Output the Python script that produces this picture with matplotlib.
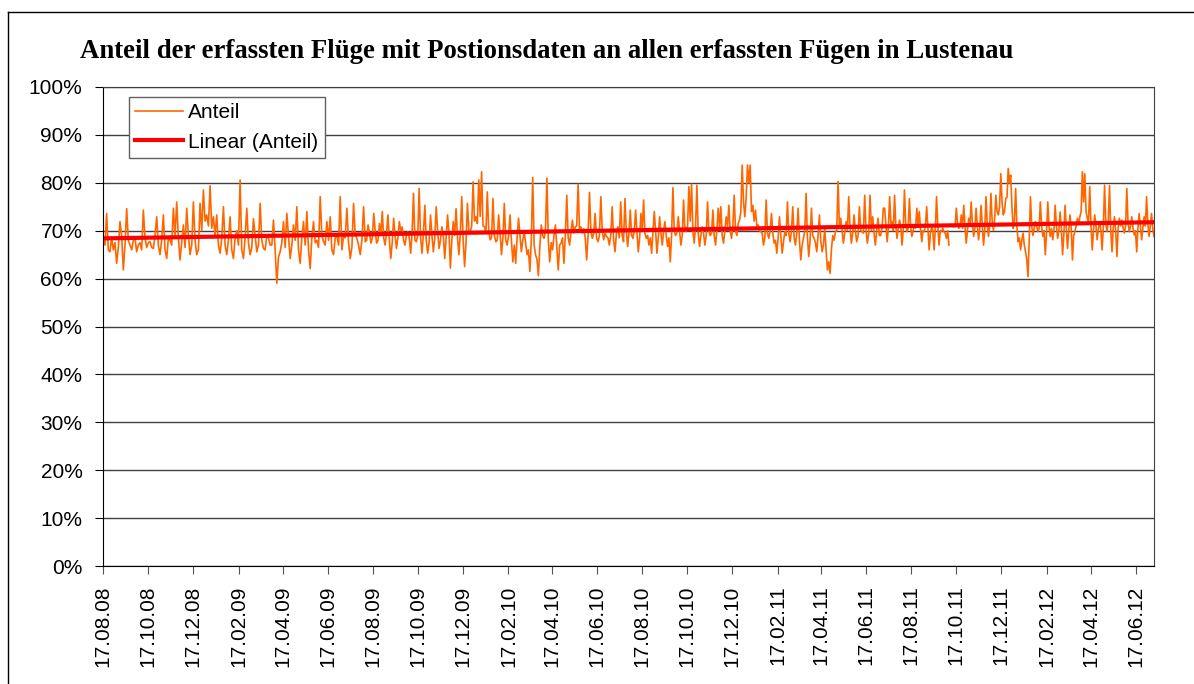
import numpy as np
import pandas as pd
import matplotlib
matplotlib.use('Agg')
import matplotlib.pyplot as plt
import matplotlib.dates as mdates
from matplotlib.ticker import FuncFormatter, MultipleLocator
from matplotlib.lines import Line2D

plt.rcParams['font.family'] = ['Liberation Sans', 'DejaVu Sans']

title = 'Anteil der erfassten Flüge mit Postionsdaten an allen erfassten Fügen in Lustenau'

# Anteil in %, eine Liste je Jahr (Aug..Jul)
seg_bounds = ['2008-08-17', '2009-08-07', '2010-07-25', '2011-07-12', '2012-07-11']
anteil_0809 = [
    68, 67, 73.6, 66, 65.6, 68.5, 66, 67.5, 63.2, 66.5, 71.9, 69, 61.8, 67, 74.6, 68, 67, 66, 68, 68.5,
    65.6, 67, 67.5, 66, 74.3, 68.5, 66.5, 67.5, 67.7, 66.5, 66.3, 69, 72.9, 67, 65, 68, 73.3, 66, 64.2, 68.5,
    68, 67, 74.7, 69, 76, 68.5, 63.9, 67.5, 71.2, 66.5, 74.7, 69, 65, 67, 76, 68, 65, 66, 75.7, 70,
    78.5, 72, 73.3, 71, 79.4, 70.5, 72.9, 69, 73.3, 67, 65.3, 68.5, 75, 67, 65, 68, 72.9, 66, 64.2, 68.5,
    70, 67, 80.6, 66, 64.2, 68.5, 74.7, 67.5, 65, 66.5, 72.5, 69, 65.6, 67, 75.7, 68, 66.3, 66, 69, 68.5,
    67, 67, 72.2, 66, 59, 64.5, 65.6, 67.5, 71.9, 66.5, 73.6, 69, 64.2, 67, 71.2, 68, 75, 66, 63.2, 68.5,
    71.9, 67, 74, 66, 62.1, 68.5, 71.9, 67.5, 68, 66.5, 77.1, 69, 67.7, 67, 71.9, 68, 72.9, 66, 65, 68.5,
    69, 67, 77.1, 66, 68.9, 68.5, 74.7, 67.5, 64.2, 66.5, 75.7, 69, 68.4, 67, 65, 68, 75]
anteil_0910 = [
    67.7, 68, 71.2, 69.5, 67.4, 68.5, 73.6, 70, 67.4, 68, 71.5, 69, 74, 68.5, 67, 69.5, 73.3, 68, 64.2, 67.5,
    72.6, 69, 66.3, 68.5, 71.9, 70, 70.8, 68, 67, 69, 69.8, 68.5, 65.3, 69.5, 77.8, 68, 67.7, 69, 78.8, 68.5,
    65.3, 69.5, 75.3, 68, 65.3, 67.5, 73.3, 69, 65.6, 68.5, 75, 70, 66.3, 68, 70.8, 69, 64.2, 68.5, 73.3, 69.5,
    62.2, 68, 71.9, 69, 74.6, 68.5, 65, 69.5, 77.1, 68, 62.5, 67.5, 75.7, 70, 69.8, 71, 80.2, 72, 72.9, 71.5,
    80.6, 73, 82.3, 71, 70.8, 69.5, 78.1, 70, 68.1, 68.5, 76.7, 69, 67.7, 68, 73.3, 69.5, 65, 68.5, 75.7, 68,
    67, 69, 73.3, 68, 63.5, 67, 63.2, 68.5, 72.6, 69, 65.6, 68, 69.8, 67.5, 65, 66, 61.5, 68, 81.1, 67,
    65, 64, 60.6, 66.5, 71.2, 69, 68.4, 70, 81, 68, 63.5, 67.5, 66, 69, 71.2, 66.5, 61.8, 67, 67.4, 68.5,
    63.2, 69, 77.4, 68.5, 67, 70, 72.2, 69.5, 70.8, 71, 79.7, 70, 70.8, 69.5, 70.4, 68.5, 63.9, 69, 78, 70,
    68.4, 69.5, 73.6, 68.5, 67.7, 69, 77.1, 70, 68.1, 69.5, 68.8, 68.5, 67, 69, 75, 68, 65.6, 69.5, 70.8, 68.5,
    76, 69, 67.7]
anteil_1011 = [
    76.7, 70, 66.7, 69.5, 74.3, 69, 68.4, 70, 74.3, 69.5, 65.6, 68.5, 73.6, 70, 76.4, 69.5, 68.4, 69, 67, 68.5,
    65.3, 69.5, 74, 70, 65.3, 68.5, 72.9, 69.5, 67, 70, 71.9, 69, 66.7, 68.5, 63.5, 69, 79, 70, 69, 69.5,
    72.9, 70, 67, 69, 76.4, 70, 69.8, 71, 79.2, 72, 79.7, 70, 67.4, 71, 79.5, 69.5, 66.7, 69, 70.8, 69.5,
    67, 69, 76, 70, 69, 69.5, 74.3, 69, 67, 70, 74.7, 70.5, 75, 69, 67.4, 70, 72.9, 71, 75.3, 70,
    68.4, 71, 77.4, 70, 69, 71.5, 72.2, 74, 83.7, 76, 72.9, 77, 83.7, 80, 83.7, 74, 75.3, 72, 74.3, 71,
    71.2, 70, 69.8, 69.5, 67, 68.5, 76.4, 69.5, 68.4, 70, 73.6, 69.5, 67.4, 68, 65.3, 68.5, 72.9, 69, 65.3, 67.5,
    69.8, 69, 76, 69.5, 67.7, 70, 75, 68.5, 67, 69.5, 74.7, 68, 63.9, 67, 68.4, 70, 77.8, 68.5, 64.6, 68,
    74.7, 69, 68.4, 67.5, 65.6, 69, 73.3, 68, 65.6, 67, 70.5, 66, 61.8, 63.5, 61.1, 66, 69, 68, 69.8, 70,
    80.3, 71, 72.6, 70, 67.4, 69.5, 71.9, 70, 77.1, 70.5, 67.4, 69.5, 73.3, 70, 67.7, 69, 75, 70, 69.8, 69.5,
    77.4, 70, 67.4, 69.5, 77.4, 70, 72.9, 69.5, 67, 70, 72.6, 69, 69, 70.5, 74.7]
anteil_1112 = [
    74.7, 71, 67.7, 70.5, 77.1, 71.5, 71.9, 70, 77.4, 71, 68.4, 70.5, 72.2, 71, 67, 70, 78.5, 71.5, 69.8, 70.5,
    76.7, 71, 68.8, 70, 71.2, 70.5, 74.7, 71, 74, 70.5, 67.7, 70, 69.8, 71, 75, 70.5, 66, 69.5, 70.8, 70,
    66, 70.5, 77.1, 71, 67, 70, 69.8, 70.5, 69.8, 69.5, 68.4, 70, 67, np.nan, np.nan, np.nan, 70.8, 71, 74.7, 71.5,
    70.5, 71, 73.3, 70.5, 75.3, 71, 67.4, 70, 72.6, 71, 76, 71.5, 68.8, 70.5, 74.7, 71, 68.1, 70.5, 75.3, 71,
    67, 70, 77.1, 71.5, 68.8, 71, 77.8, 72, 70.1, 72.5, 77.4, 74, 73.3, 75, 81.9, 76, 73.3, 74, 76.7, 77,
    83, 80, 81.6, 75, 70.5, 72, 78.8, 71, 67.7, 68.5, 66, 68, 69.5, 67, 65.6, 64, 60.4, 68, 77.1, 71,
    69, 70.5, 71.9, 71, 69.8, 70.5, 76, 71, 68.8, 70, 65, 69.5, 76, 71, 68.8, 70.5, 68.1, 70, 75.3, 71,
    68.4, 70, 73.9, 70.5, 65, 69, 75.3, 70.5, 66.3, 70, 73.3, 70.5, 63.9, 69, 69.8, 71, 72.6, 71.5, 72.9, 74,
    82.3, 76, 81.9, 74, 72.6, 72, 79.2, 71, 66, 70, 73.3, 71, 68.1, 70.5, 71.9, 70, 66, 71, 79.5, 71.5,
    69.8, 72, 79.4, 70, 65.6, 70.5, 72.9, 70, 64.6, 70.5, 72.6, 71, 72.2, 70.5, 69.5, 71, 78.8, 71.5, 69.8, 71,
    72.9, 70.5, 69.1, 70, 65.6, 70.5, 73.6, 71, 68.1, 70.5, 72.9, 71, 77.1, 71.5, 68.8, 71, 73.6, 70.5, 68.8]
segments = [anteil_0809, anteil_0910, anteil_1011, anteil_1112]

dates = []
for i, seg in enumerate(segments):
    last = i == len(segments) - 1
    d = pd.date_range(seg_bounds[i], seg_bounds[i + 1], periods=len(seg) + (0 if last else 1))
    dates.extend(d if last else d[:-1])
dates = pd.DatetimeIndex(dates)
anteil = np.concatenate(segments)

tick_dates = pd.date_range('2008-08-17', '2012-06-17', freq=pd.DateOffset(months=2))

fig = plt.figure(figsize=(11.94, 6.84), dpi=100)
ax = fig.add_axes([103.3 / 1194, 1 - 566 / 684, (1154 - 103.3) / 1194, 479 / 684])

# aeusserer Rahmen (links + oben)
fig.add_artist(Line2D([8 / 1194, 8 / 1194], [0, 1 - 12 / 684], transform=fig.transFigure, color='k', lw=1))
fig.add_artist(Line2D([8 / 1194, 1], [1 - 12 / 684, 1 - 12 / 684], transform=fig.transFigure, color='k', lw=1))

ax.plot(dates, anteil, color='#ff6600', lw=1.2, label='Anteil')

x = mdates.date2num(dates)
ok = np.isfinite(anteil)
coef = np.polyfit(x[ok], anteil[ok], 1)
ax.plot(dates[[0, -1]], np.polyval(coef, x[[0, -1]]), color='#ff0000', lw=3, label='Linear (Anteil)')

ax.set_ylim(0, 100)
ax.set_xlim(pd.Timestamp(seg_bounds[0]), pd.Timestamp(seg_bounds[-1]))
ax.yaxis.set_major_locator(MultipleLocator(10))
ax.yaxis.set_major_formatter(FuncFormatter(lambda v, p: '%d%%' % v))
ax.set_xticks(tick_dates)
ax.xaxis.set_major_formatter(mdates.DateFormatter('%d.%m.%y'))
ax.tick_params(axis='y', labelsize=15, length=6, pad=9, direction='out')
ax.tick_params(axis='x', labelsize=15, length=6, pad=8, direction='out', labelrotation=90, color='#555555')

ax.set_axisbelow(True)
ax.yaxis.grid(True, color='#404040', lw=1)
for s in ['top', 'right']:
    ax.spines[s].set_color('#404040')

leg = ax.legend(loc='upper left', bbox_to_anchor=(0.0245, 0.979), borderaxespad=0, fontsize=15,
                handlelength=2.3, handletextpad=0.25, labelspacing=0.5, borderpad=0.3,
                fancybox=False, framealpha=1, edgecolor='#606060')
leg.get_frame().set_linewidth(1)

fig.text(80 / 1194, 1 - 52 / 684, title, fontsize=19.3, fontweight='bold',
         family='Liberation Serif', va='center', ha='left')

fig.savefig('out.png', dpi=100)
print(coef, np.polyval(coef, x[[0, -1]]))
